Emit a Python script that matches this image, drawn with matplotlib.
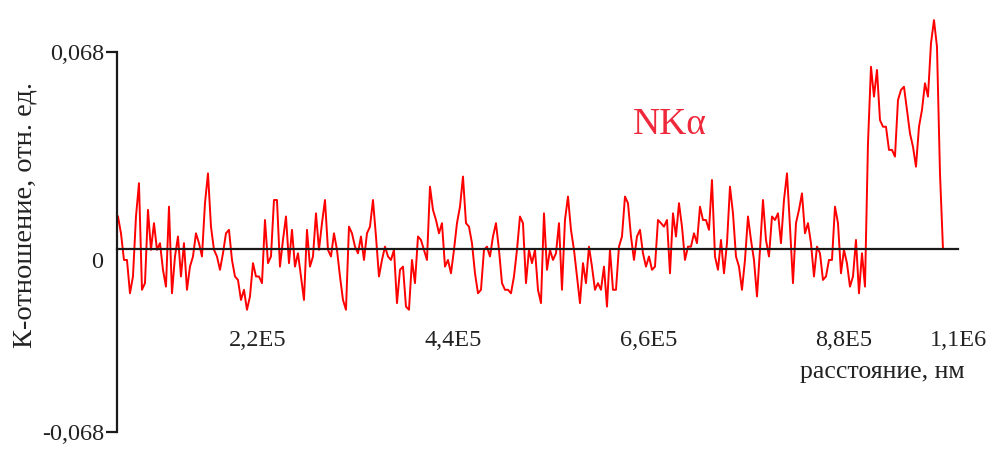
import numpy as np
import matplotlib.pyplot as plt
from matplotlib.ticker import FixedLocator

plt.rcParams['font.family'] = ['Liberation Serif', 'DejaVu Serif']

# K-ratio along the scan, in thousandths
k_part1 = [11.2, 5.4, -3.8, -3.8, -15.3, -9.5, 11.2, 22.7, -14.1, -11.8,
           13.5, -0.3, 8.9, -0.3, 2.0, -7.2, -13.0, 14.6, -15.3, -2.6,
           4.3, -9.5, 2.0, -14.1, -6.1, -2.6, 5.4, 2.0, -2.6, 15.8,
           26.1, 7.7, -0.3, -2.6, -7.2, -1.5, 5.4, 6.6, -3.8, -9.5]
k_part2 = [-10.7, -17.6, -14.1, -21.0, -16.4, -4.9, -9.5, -9.5, -11.8, 10.0,
           -4.9, -2.6, 16.9, 16.9, -6.1, 3.1, 11.2, -4.9, 6.6, -6.1,
           -1.5, -9.5, -17.6, 6.6, -6.1, -2.6, 12.3, -0.3, 8.9, 16.9,
           -0.3, -2.6, 5.4, -0.3, -9.5, -17.6, -21.0, 7.7, 5.4, 0.8]
k_part3 = [-1.5, 4.3, -3.8, 5.4, 7.7, 16.9, 4.3, -9.5, -3.8, 0.8,
           -2.6, -3.8, -0.3, -18.7, -7.2, -6.1, -19.9, -21.0, -3.8, -11.8,
           4.3, 3.1, -0.3, -3.8, 21.5, 13.5, 10.0, 5.4, 8.9, -6.1,
           -3.8, -8.4, -0.3, 8.9, 14.6, 25.0, 8.9, 7.7, 2.0, -8.4]
k_part4 = [-15.3, -14.1, -0.3, 0.8, -2.6, 4.3, 8.9, -0.3, -11.8, -14.1,
           -14.1, -15.3, -9.5, -0.3, 11.2, 8.9, -11.8, -0.3, -4.9, -0.3,
           -14.1, -18.7, 12.3, -7.2, -0.3, -3.8, -1.5, 8.9, -14.1, 10.0,
           18.1, 6.6, -0.3, -9.5, -18.7, -4.9, -11.8, 0.8, -6.1, -14.1]
k_part5 = [-11.8, -14.1, -6.1, -19.9, -0.3, -14.1, -14.1, 0.8, 4.3, 18.1,
           15.8, 4.3, -3.8, 4.3, 6.6, -1.5, -6.1, -2.6, -7.2, -6.1,
           10.0, 8.9, 7.7, 10.0, -8.4, 12.3, 4.3, 15.8, 7.7, -3.8,
           0.8, 0.8, 5.4, 2.0, 14.6, 10.0, 10.0, 6.6, 23.8, -2.6]
k_part6 = [-7.2, 3.1, -8.4, 2.0, 21.5, 12.3, -2.6, -6.1, -14.1, -3.8,
           11.2, 3.1, -3.8, -16.4, -0.3, 16.9, 3.1, -2.6, 11.2, 10.0,
           12.3, 2.0, 16.9, 26.1, 7.7, -11.8, 8.9, 13.5, 19.2, 5.4,
           8.9, 2.0, -9.5, 0.8, -1.5, -10.7, -9.5, -3.8, -3.8, 14.6]
k_part7 = [8.9, -8.4, -0.3, -5.0, -13.0, -9.5, 3.1, -15.3, -1.5, -13.0,
           36.5, 62.9, 52.6, 61.8, 44.5, 42.2, 42.2, 34.2, 34.2, 31.9,
           51.4, 54.9, 56.0, 48.0, 39.9, 35.3, 28.4, 42.2, 48.0, 57.2,
           52.6, 71.0, 79.0, 69.8, 26.1, 0.0]

# scan start / end (nm) and axis ranges
x_start, x_end = 6.3e4, 9.914e5
x_lo, x_hi = 6.19e4, 1.0083e6
y_lo, y_hi = -0.0632, 0.068
xtick_pos = [2.2e5, 4.4e5, 6.6e5, 8.8e5, x_hi]
xtick_lab = ['2,2E5', '4,4E5', '6,6E5', '8,8E5', '1,1E6']

k = np.concatenate([k_part1, k_part2, k_part3, k_part4,
                    k_part5, k_part6, k_part7]) / 1000.0
x = np.linspace(x_start, x_end, len(k))  # equal scan steps

fig = plt.figure(figsize=(9.95, 4.53), dpi=100)
ax = fig.add_axes([117 / 995, 21 / 453, 841 / 995, 380 / 453])

ax.plot(x, k, color='#ff0000', lw=1.4, clip_on=False)

ax.set_xlim(x_lo, x_hi)
ax.set_ylim(y_lo, y_hi)
ax.spines[['top', 'right']].set_visible(False)
ax.spines['bottom'].set_position(('data', 0))
for s in ax.spines.values():
    s.set_linewidth(1.6)
    s.set_color('#1a1a1a')

ax.set_xticks(xtick_pos, xtick_lab)
ax.tick_params(axis='x', which='major', length=0, pad=58, labelsize=17.5,
               labelcolor='#222222')
ax.xaxis.set_minor_locator(FixedLocator([x_hi]))
ax.tick_params(axis='x', which='minor', direction='inout', length=10,
               width=1.6, color='#1a1a1a')

ax.set_yticks([y_lo, y_hi], ['-0,068', '0,068'])
ax.tick_params(axis='y', length=8, width=1.6, pad=1, labelsize=17.5,
               color='#1a1a1a', labelcolor='#222222')

# labels placed in figure pixels
W, H = 995, 453
fig.text(97 / W, 1 - 263 / H, '0', fontsize=17.5, color='#222222',
         ha='center', va='center')
fig.text(882 / W, 1 - 372 / H, 'расстояние, нм', fontsize=18.5,
         color='#222222', ha='center', va='center')
fig.text(25 / W, 1 - 215 / H, 'К-отношение, отн. ед.', fontsize=20.5,
         color='#222222', ha='center', va='center', rotation=90)
fig.text(670 / W, 1 - 125 / H, 'NKα', fontsize=27, color='#f0283c',
         ha='center', va='center')

fig.savefig('out.png', dpi=100)
